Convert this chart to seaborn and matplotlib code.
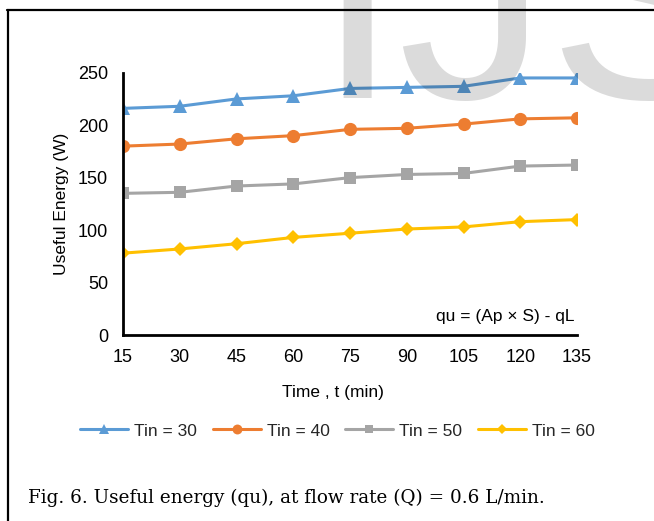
import matplotlib
matplotlib.use("Agg")
import matplotlib.pyplot as plt
from matplotlib.lines import Line2D
import seaborn as sns
import pandas as pd

time_min = [15, 30, 45, 60, 75, 90, 105, 120, 135]
tin30 = [216, 218, 225, 228, 235, 236, 237, 245, 245]
tin40 = [180, 182, 187, 190, 196, 197, 201, 206, 207]
tin50 = [135, 136, 142, 144, 150, 153, 154, 161, 162]
tin60 = [78, 82, 87, 93, 97, 101, 103, 108, 110]
series_names = ["Tin = 30", "Tin = 40", "Tin = 50", "Tin = 60"]
y_ticks = [0, 50, 100, 150, 200, 250]

sns.set_theme(style="white")
plt.rcParams['font.family'] = ['Liberation Sans', 'DejaVu Sans']

colors = ["#5B9BD5", "#ED7D31", "#A5A5A5", "#FFC000"]
markers = ["^", "o", "s", "D"]
msizes = [10, 9.5, 8.5, 6.8]

df = pd.DataFrame({
    "t": time_min * 4,
    "qu": tin30 + tin40 + tin50 + tin60,
    "series": sum([[n] * len(time_min) for n in series_names], []),
})

fig = plt.figure(figsize=(6.54, 5.21), dpi=100)
ax = fig.add_axes([123/654, 1-335/521, 454/654, 262.3/521])
ax.set_facecolor('none')

for name, c, m, ms in zip(series_names, colors, markers, msizes):
    sub = df[df["series"] == name]
    sns.lineplot(data=sub, x="t", y="qu", ax=ax, color=c, marker=m,
                 markersize=ms, markeredgewidth=0, linewidth=2.2, label=name)

ax.set_xlim(15, 135)
ax.set_ylim(0, 250)
ax.set_xticks(time_min)
ax.set_yticks(y_ticks)
for s in ["top", "right"]:
    ax.spines[s].set_visible(False)
for s in ["left", "bottom"]:
    ax.spines[s].set_color("black")
    ax.spines[s].set_linewidth(2.0)
ax.tick_params(axis="both", which="major", direction="out", length=3.8, width=2.0,
               color="black", labelsize=13, labelcolor="black")
ax.tick_params(axis="x", pad=6)
ax.tick_params(axis="y", pad=7)
ax.set_xlabel("Time , t (min)", fontsize=12.5, color="black")
ax.set_ylabel("Useful Energy (W)", fontsize=12.5, color="black", labelpad=6)
ax.xaxis.set_label_coords((333-123)/454, -0.19)

ax.text((574-123)/454, (335-316.5)/262, "qu = (Ap \u00d7 S) - qL", transform=ax.transAxes,
        ha="right", va="center", fontsize=12.5, color="black")

handles, labels = ax.get_legend_handles_labels()
ax.get_legend().remove()
fig.legend(handles, labels, loc="center", bbox_to_anchor=(337.5/654, 1-431/521),
           ncol=4, frameon=False, fontsize=12.5, handlelength=2.76,
           handletextpad=0.35, columnspacing=0.92, markerscale=0.75)

fig.text(28/654, 1-503/521, "Fig. 6. Useful energy (qu), at flow rate (Q) = 0.6 L/min.",
         family=['DejaVu Serif', 'Liberation Serif'], fontsize=13.2, color="black",
         ha="left", va="baseline")

# watermark
fig.text(315/654, 1-98/521, "IJSER", family=['Liberation Sans', 'DejaVu Sans'],
         fontsize=216, color="black", alpha=0.14, ha="left", va="baseline", zorder=10)

# border
fig.add_artist(Line2D([7.5/654, 7.5/654], [0, 1-10/521], transform=fig.transFigure,
                      color="black", linewidth=1.6, zorder=11))
fig.add_artist(Line2D([7/654, 1], [1-10/521, 1-10/521], transform=fig.transFigure,
                      color="black", linewidth=1.6, zorder=11))

fig.savefig("out.png", dpi=100)
